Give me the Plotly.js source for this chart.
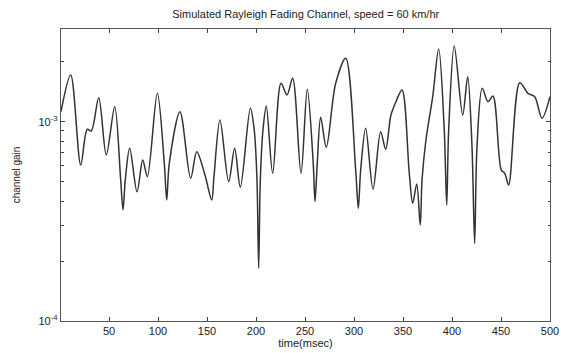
<!DOCTYPE html>
<html>
<head>
<meta charset="utf-8">
<script src="https://cdn.plot.ly/plotly-3.0.1.min.js"></script>
<style>html,body{margin:0;padding:0;background:#fff;}#chart{width:561px;height:353px;}</style>
</head>
<body>
<div id="chart"></div>
<script>
// time in msec
var timeMs = [1, 10.9, 21.1, 27.8, 31.9, 39.5, 47.2, 55.8, 61.9, 64.3, 66.6, 71.1, 78.6, 84.4, 89.1, 99.3,
  106.4, 108.9, 111.5, 122.4, 133.3, 139.5, 147.9, 154.8, 157.1, 163.2, 172.1, 178.2, 184.0, 194.2,
  198.2, 201, 202.7, 204.4, 207.1, 210.5, 217.0, 225.5, 231.6, 237.4, 245.9, 252.3, 258.4, 260.2,
  262.5, 266.0, 271.7, 281.3, 291.5, 301.7, 304.4, 306.8, 311.9, 319.4, 327.2, 332.3, 337.7, 342.8,
  349.0, 356.4, 359.9, 364.0, 367.6, 369.4, 373.4, 380.3, 386.4, 392.1, 394.6, 396.6, 402.3, 410.9,
  416.0, 420.4, 423.1, 425.5, 430.9, 436.7, 441.8, 450.3, 453.8, 457.8, 469.1, 477.5, 484.4, 491.8, 500];
// channel gain
var channelGain = [1.122e-3, 1.715e-3, 6.06e-4, 9.16e-4, 8.98e-4, 1.319e-3, 6.81e-4, 1.189e-3, 5.10e-4, 3.61e-4, 5.10e-4, 7.35e-4, 4.45e-4, 6.42e-4, 5.30e-4, 1.388e-3,
  6.18e-4, 4.05e-4, 6.18e-4, 1.122e-3, 5.20e-4, 7.07e-4, 5.40e-4, 4.05e-4, 5.30e-4, 1.020e-3, 5.00e-4, 7.35e-4, 4.69e-4, 1.167e-3,
  9.08e-4, 5.10e-4, 1.838e-4, 5.10e-4, 9.08e-4, 1.199e-3, 5.51e-4, 1.558e-3, 1.361e-3, 1.651e-3, 5.51e-4, 1.454e-3, 6.18e-4, 3.97e-4,
  6.18e-4, 1.052e-3, 7.44e-4, 1.558e-3, 2.080e-3, 5.72e-4, 3.68e-4, 5.72e-4, 9.27e-4, 4.58e-4, 8.91e-4, 7.27e-4, 1.080e-3, 1.260e-3,
  1.442e-3, 5.51e-4, 3.90e-4, 4.87e-4, 3.03e-4, 5.10e-4, 8.09e-4, 1.335e-3, 2.317e-3, 9.08e-4, 3.82e-4, 9.08e-4, 2.398e-3, 1.080e-3,
  1.682e-3, 7.49e-4, 2.45e-4, 7.49e-4, 1.470e-3, 1.260e-3, 1.346e-3, 5.72e-4, 5.51e-4, 4.81e-4, 1.568e-3, 1.388e-3, 1.335e-3, 1.040e-3, 1.335e-3];
var xTicks = [50, 100, 150, 200, 250, 300, 350, 400, 450, 500];
var yTicks = [1e-4, 1e-3];
var yTickText = ['10<sup>-4</sup>', '10<sup>-3</sup>'];
var yMinorTicks = [2e-4, 3e-4, 4e-4, 5e-4, 6e-4, 7e-4, 8e-4, 9e-4, 2e-3];

var trace = {
  x: timeMs, y: channelGain, type: 'scatter', mode: 'lines',
  line: {color: '#333333', width: 1.5, shape: 'spline', smoothing: 0.9},
  hoverinfo: 'skip'
};
var axisFont = {family: 'Liberation Sans, Arial, sans-serif', size: 11, color: '#222'};
var layout = {
  width: 561, height: 353,
  margin: {l: 61, r: 11, t: 29, b: 32},
  paper_bgcolor: '#fff', plot_bgcolor: '#fff',
  showlegend: false,
  title: {text: 'Simulated Rayleigh Fading Channel, speed = 60 km/hr', font: {family: 'Liberation Sans, Arial, sans-serif', size: 11, color: '#222'}, x: 0.545, xanchor: 'center', y: 0.96, yanchor: 'middle'},
  xaxis: {
    range: [1, 500], tickvals: xTicks, ticktext: xTicks.map(String),
    ticks: 'inside', ticklen: 4, tickcolor: '#444', mirror: 'ticks',
    showline: true, linecolor: '#555', linewidth: 1.2, showgrid: false, zeroline: false,
    tickfont: axisFont,
    title: {text: 'time(msec)', font: axisFont, standoff: 2}
  },
  yaxis: {
    type: 'log', range: [-4, -2.535], tickvals: yTicks, ticktext: yTickText,
    ticks: 'inside', ticklen: 4, tickcolor: '#444', mirror: 'ticks',
    showline: true, linecolor: '#555', linewidth: 1.2, showgrid: false, zeroline: false,
    tickfont: axisFont,
    minor: {tickvals: yMinorTicks, ticks: 'inside', ticklen: 2.5, tickcolor: '#444', showgrid: false},
    title: {text: 'channel gain', font: {family: 'Liberation Sans, Arial, sans-serif', size: 10, color: '#222'}, standoff: 16}
  }
};
Plotly.newPlot('chart', [trace], layout, {staticPlot: true, displayModeBar: false});
</script>
</body>
</html>
